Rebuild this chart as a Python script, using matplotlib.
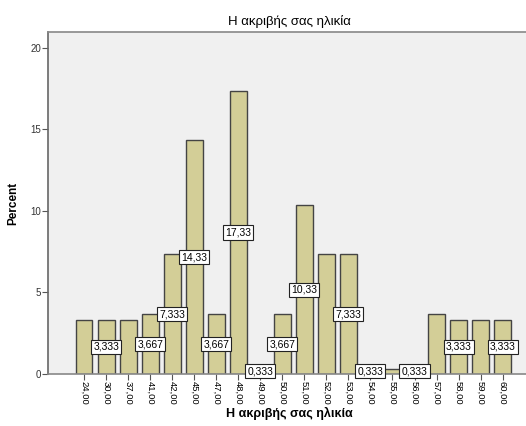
import numpy as np
import matplotlib.pyplot as plt

plt.rcParams['font.family'] = ['Liberation Sans', 'DejaVu Sans']

# ages and percentages
ages = ["24,00", "30,00", "37,00", "41,00", "42,00", "45,00", "47,00", "48,00", "49,00", "50,00",
        "51,00", "52,00", "53,00", "54,00", "55,00", "56,00", "57,00", "58,00", "59,00", "60,00"]
percent = [3.333, 3.333, 3.333, 3.667, 7.333, 14.33, 3.667, 17.33, 0.333, 3.667,
           10.33, 7.333, 7.333, 0.333, 0.333, 0.333, 3.667, 3.333, 3.333, 3.333]
# SPSS hides some labels where they would overlap
label_text = [None, "3,333", None, "3,667", "7,333", "14,33", "3,667", "17,33", "0,333", "3,667",
              "10,33", None, "7,333", "0,333", None, "0,333", None, "3,333", None, "3,333"]

fig = plt.figure(figsize=(5.26, 4.26), dpi=100)
ax = fig.add_axes([48/526, (426-374)/426, 1 - 48/526 + 0.01, (374-32)/426])
ax.set_facecolor('#F0F0F0')

x = np.arange(len(ages))
ax.bar(x, percent, width=0.76, color='#D3CE97', edgecolor='#444444', linewidth=1.0, zorder=2)

for i in range(len(x)):
    if label_text[i] is not None:
        ax.text(x[i], percent[i] / 2, label_text[i], ha='center', va='center', fontsize=7.5,
                zorder=3, bbox=dict(boxstyle='square,pad=0.2', fc='white', ec='#222222', lw=0.8))

ax.set_xlim(-1.64, 20.3)
ax.set_ylim(0, 20.95)
ax.set_yticks([0, 5, 10, 15, 20])
ax.set_xticks(x)
ax.set_xticklabels(ages, rotation=-90, fontsize=6.8)
ax.tick_params(axis='y', labelsize=7, length=4, color='#555555', labelcolor='#333333', pad=1)
ax.tick_params(axis='x', length=4, color='#555555', pad=1)

for s in ['top', 'bottom', 'left']:
    ax.spines[s].set_color('#888888')
    ax.spines[s].set_linewidth(1.2)
ax.spines['left'].set_color('#666666')
ax.spines['right'].set_visible(False)

ax.set_title("Η ακριβής σας ηλικία", fontsize=9.5, pad=5)
ax.set_xlabel("Η ακριβής σας ηλικία", fontsize=9, fontweight='bold', labelpad=2)
ax.set_ylabel("Percent", fontsize=8.5, fontweight='bold', labelpad=8)

fig.savefig("out.png", dpi=100)
